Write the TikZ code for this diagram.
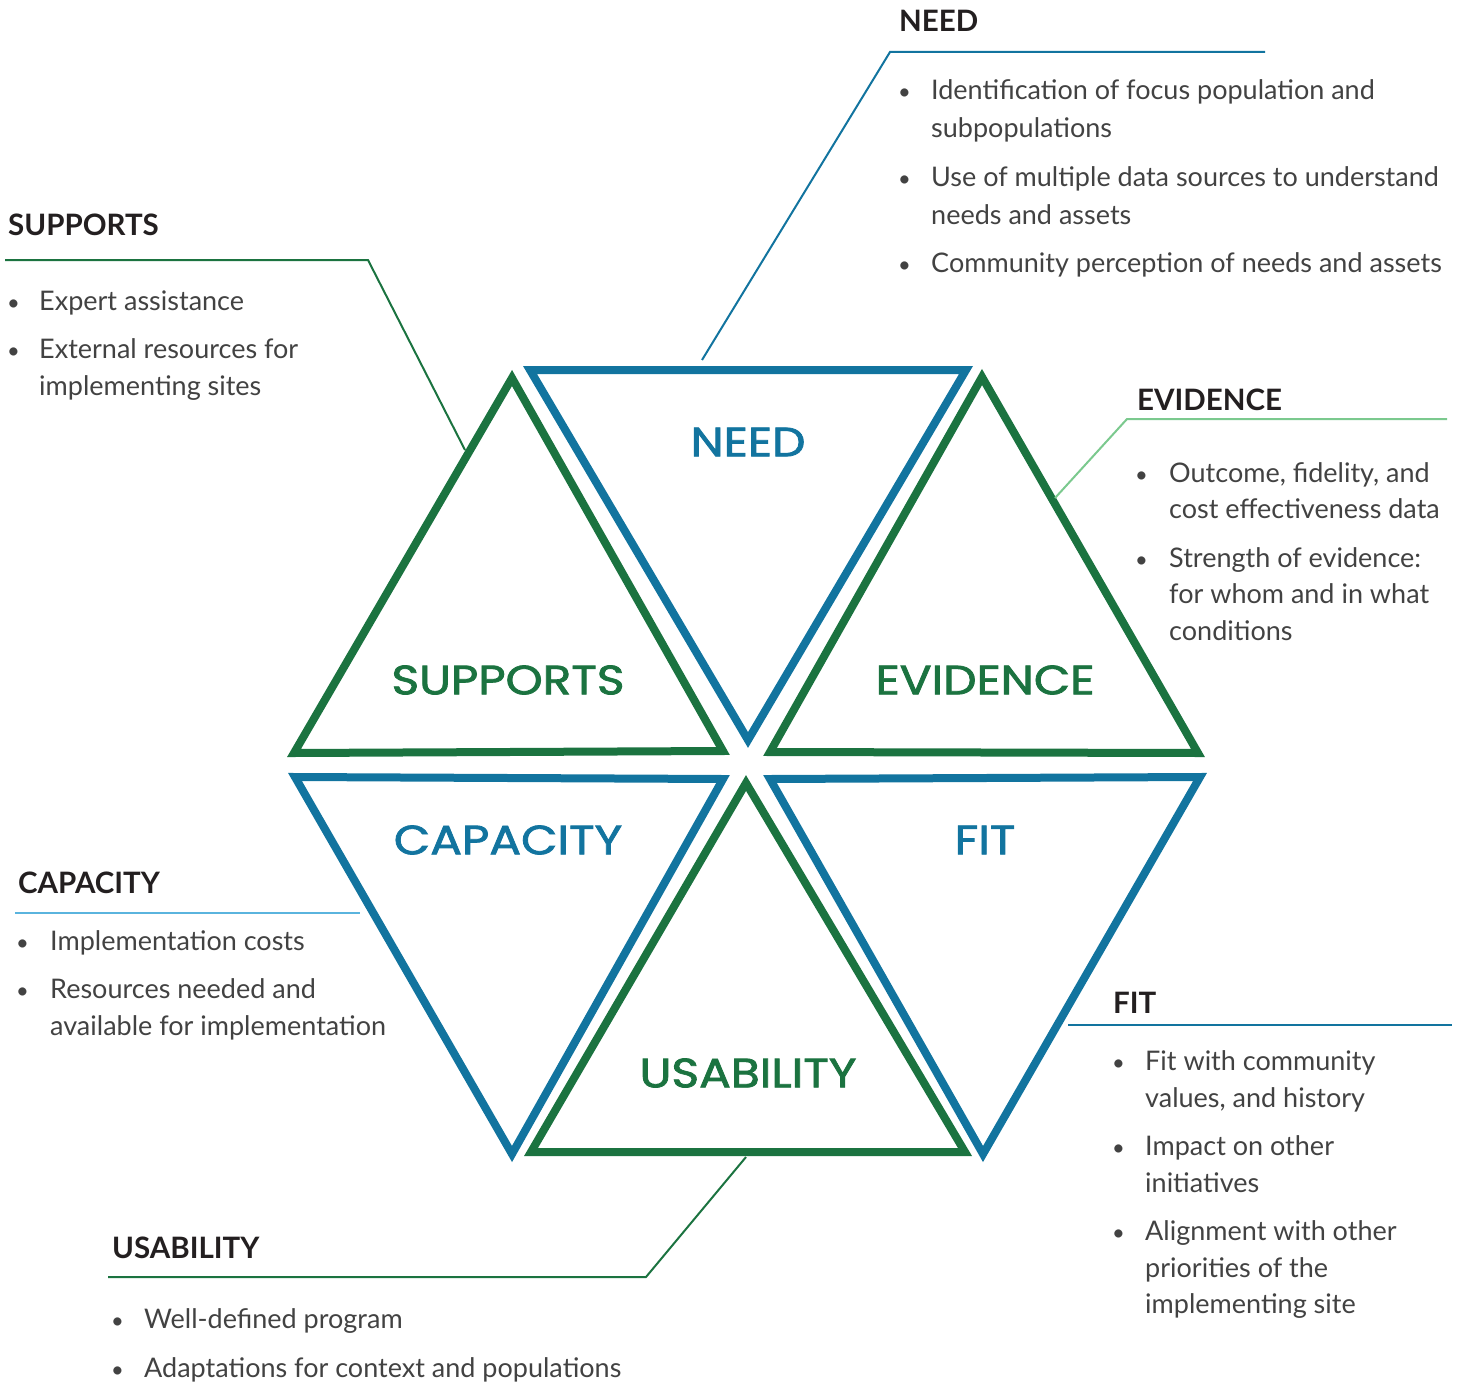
\documentclass[tikz,border=0pt]{standalone}
\usepackage{fontspec}
\setmainfont{Lato}
\newfontfamily\trif{Poppins}[FakeBold=1.8]
\definecolor{tblue}{HTML}{12749F}
\definecolor{tgreen}{HTML}{1B7340}
\definecolor{lblue}{HTML}{5AB4DE}
\definecolor{lgreen}{HTML}{7BC98E}
\definecolor{headc}{HTML}{231F20}
\definecolor{bodyc}{HTML}{424242}
\newcommand\widen[1]{\scalebox{1.15}[1]{#1}}
\tikzset{
  tri/.style={line width=8pt, line join=miter, miter limit=10},
  btri/.style={tri, draw=tblue},
  gtri/.style={tri, draw=tgreen},
  tlabel/.style={font=\trif\fontsize{41}{41}\selectfont, inner sep=0pt, anchor=center},
  blabel/.style={tlabel, text=tblue},
  glabel/.style={tlabel, text=tgreen},
  head/.style={font=\bfseries\fontsize{29.5}{29.5}\selectfont, text=headc, anchor=base west, inner sep=0pt},
  body/.style={font=\fontsize{27}{27}\selectfont, text=bodyc, anchor=base west, inner sep=0pt},
  bul/.style={font=\fontsize{22}{22}\selectfont, text=bodyc, anchor=base west, inner sep=0pt},
  lead/.style={line width=2pt},
}
\begin{document}
\begin{tikzpicture}[x=1pt,y=-1pt]
\useasboundingbox (0,0) rectangle (1461,1383);
% ---------- triangle corners ----------
\coordinate (NA) at (530,370); \coordinate (NB) at (966,370); \coordinate (NC) at (748,740);
\coordinate (SA) at (512,378); \coordinate (SB) at (294,753); \coordinate (SC) at (723,751);
\coordinate (EA) at (982,377); \coordinate (EB) at (770,752); \coordinate (EC) at (1198,753);
\coordinate (CA) at (295,777); \coordinate (CB) at (723,779); \coordinate (CC) at (512,1154);
\coordinate (FA) at (770,779); \coordinate (FB) at (1200,777); \coordinate (FC) at (983,1154);
\coordinate (UA) at (746,783); \coordinate (UB) at (531,1152); \coordinate (UC) at (965,1152);
\draw[btri] (NA) -- (NB) -- (NC) -- cycle;
\draw[gtri] (SA) -- (SB) -- (SC) -- cycle;
\draw[gtri] (EA) -- (EB) -- (EC) -- cycle;
\draw[btri] (CA) -- (CB) -- (CC) -- cycle;
\draw[btri] (FA) -- (FB) -- (FC) -- cycle;
\draw[gtri] (UA) -- (UB) -- (UC) -- cycle;
% ---------- triangle labels ----------
\node[blabel] (tN) at (748,442) {\widen{NEED}};
\node[glabel] (tS) at (508,680) {\widen{SUPPORTS}};
\node[glabel] (tE) at (985,680) {\widen{EVIDENCE}};
\node[blabel] (tC) at (508,840) {\widen{CAPACITY}};
\node[blabel] (tF) at (985,840) {\widen{FIT}};
\node[glabel] (tU) at (748,1073) {\widen{USABILITY}};
% ---------- NEED ----------
\node[head] (hN) at (899,32) {NEED};
\coordinate (nL1) at (1265,52); \coordinate (nL2) at (890,52); \coordinate (nL3) at (702,360);
\draw[lead, tblue] (nL1) -- (nL2) -- (nL3);
\node[bul] (nb1) at (898,100) {\textbullet};
\node[body] (nt1) at (931,100) {Identification of focus population and};
\node[body] (nt2) at (931,138) {subpopulations};
\node[bul] (nb2) at (898,187) {\textbullet};
\node[body] (nt3) at (931,187) {Use of multiple data sources to understand};
\node[body] (nt4) at (931,224) {needs and assets};
\node[bul] (nb3) at (898,272) {\textbullet};
\node[body] (nt5) at (931,272) {Community perception of needs and assets};
% ---------- SUPPORTS ----------
\node[head] (hS) at (8,236) {SUPPORTS};
\coordinate (sL1) at (5,260); \coordinate (sL2) at (368,260); \coordinate (sL3) at (465,450);
\draw[lead, tgreen] (sL1) -- (sL2) -- (sL3);
\node[bul] (sb1) at (7,310) {\textbullet};
\node[body] (st1) at (39,310) {Expert assistance};
\node[bul] (sb2) at (7,358) {\textbullet};
\node[body] (st2) at (39,358) {External resources for};
\node[body] (st3) at (39,395) {implementing sites};
% ---------- EVIDENCE ----------
\node[head] (hE) at (1137,410) {EVIDENCE};
\coordinate (eL1) at (1447,419); \coordinate (eL2) at (1127,419); \coordinate (eL3) at (1055,498);
\draw[lead, lgreen] (eL1) -- (eL2) -- (eL3);
\node[bul] (eb1) at (1135,482) {\textbullet};
\node[body] (et1) at (1169,482) {Outcome, fidelity, and};
\node[body] (et2) at (1169,518) {cost effectiveness data};
\node[bul] (eb2) at (1135,567) {\textbullet};
\node[body] (et3) at (1169,567) {Strength of evidence:};
\node[body] (et4) at (1169,603) {for whom and in what};
\node[body] (et5) at (1169,640) {conditions};
% ---------- CAPACITY ----------
\node[head] (hC) at (18,893) {CAPACITY};
\coordinate (cL1) at (15,913); \coordinate (cL2) at (360,913);
\draw[lead, lblue] (cL1) -- (cL2);
\node[bul] (cb1) at (16,950) {\textbullet};
\node[body] (ct1) at (50,950) {Implementation costs};
\node[bul] (cb2) at (16,998) {\textbullet};
\node[body] (ct2) at (50,998) {Resources needed and};
\node[body] (ct3) at (50,1035) {available for implementation};
% ---------- FIT ----------
\node[head] (hF) at (1113,1013) {FIT};
\coordinate (fL1) at (1068,1025); \coordinate (fL2) at (1452,1025);
\draw[lead, tblue] (fL1) -- (fL2);
\node[bul] (fb1) at (1112,1070) {\textbullet};
\node[body] (ft1) at (1145,1070) {Fit with community};
\node[body] (ft2) at (1145,1107) {values, and history};
\node[bul] (fb2) at (1112,1155) {\textbullet};
\node[body] (ft3) at (1145,1155) {Impact on other};
\node[body] (ft4) at (1145,1192) {initiatives};
\node[bul] (fb3) at (1112,1240) {\textbullet};
\node[body] (ft5) at (1145,1240) {Alignment with other};
\node[body] (ft6) at (1145,1277) {priorities of the};
\node[body] (ft7) at (1145,1313) {implementing site};
% ---------- USABILITY ----------
\node[head] (hU) at (112,1258) {USABILITY};
\coordinate (uL1) at (108,1277); \coordinate (uL2) at (646,1277); \coordinate (uL3) at (746,1157);
\draw[lead, tgreen] (uL1) -- (uL2) -- (uL3);
\node[bul] (ub1) at (111,1328) {\textbullet};
\node[body] (ut1) at (144,1328) {Well-defined program};
\node[bul] (ub2) at (111,1377) {\textbullet};
\node[body] (ut2) at (144,1377) {Adaptations for context and populations};
\end{tikzpicture}
\end{document}
